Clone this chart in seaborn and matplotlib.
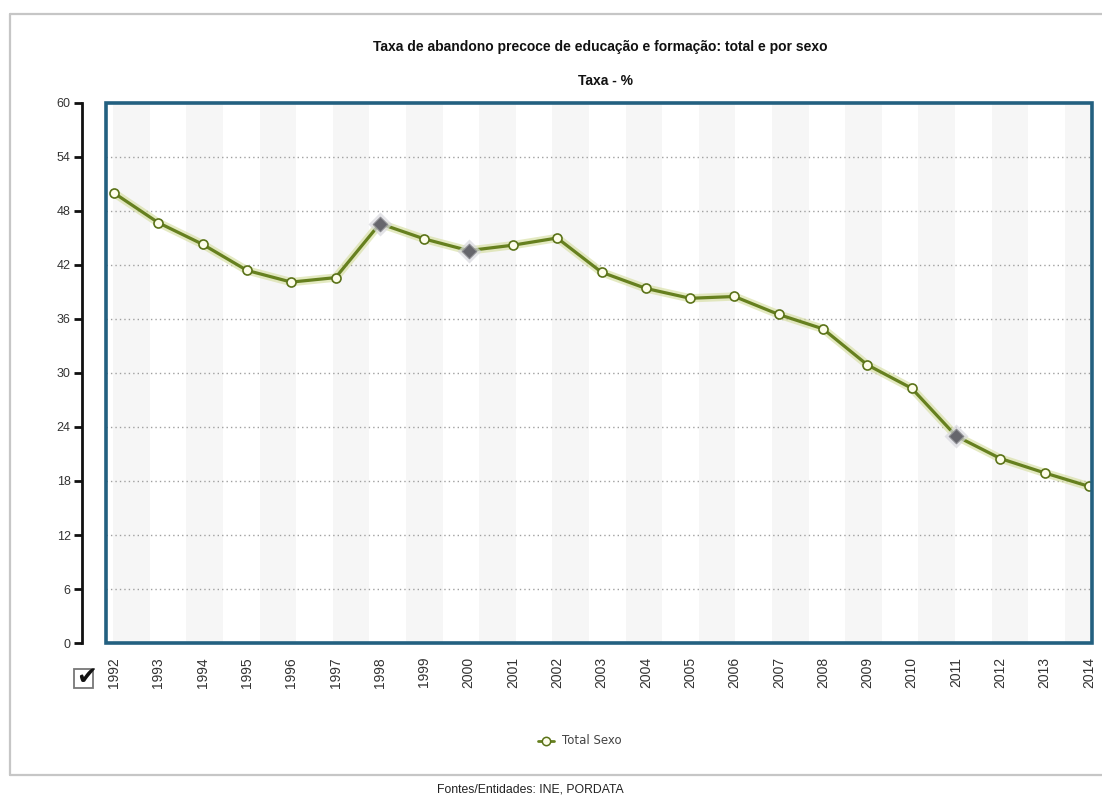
import matplotlib
matplotlib.use("Agg")
import matplotlib.pyplot as plt
from matplotlib.patches import Rectangle
from matplotlib.lines import Line2D
import seaborn as sns
import pandas as pd

# Early leavers from education and training, Portugal (%)
years = [1992, 1993, 1994, 1995, 1996, 1997, 1998, 1999, 2000, 2001, 2002, 2003,
         2004, 2005, 2006, 2007, 2008, 2009, 2010, 2011, 2012, 2013, 2014]
total_sexo = [50.0, 46.7, 44.3, 41.4, 40.1, 40.6, 46.6, 44.9, 43.6, 44.2, 45.0, 41.2,
              39.4, 38.3, 38.5, 36.5, 34.9, 30.9, 28.3, 23.0, 20.5, 18.9, 17.4]
# Years flagged with a series break
break_years = [1998, 2000, 2011]
y_ticks = [0, 6, 12, 18, 24, 30, 36, 42, 48, 54, 60]

title = "Taxa de abandono precoce de educação e formação: total e por sexo"
subtitle = "Taxa - %"
series_name = "Total Sexo"
source = "Fontes/Entidades: INE, PORDATA"

df = pd.DataFrame({"ano": years, "taxa": total_sexo})
breaks = df[df["ano"].isin(break_years)]

sns.set_style("white")
plt.rcParams["font.family"] = ["Liberation Sans", "DejaVu Sans"]

W, H = 1102, 796
fig = plt.figure(figsize=(W / 100, H / 100), dpi=100)
fig.patch.set_facecolor("white")

def fx(px):
    return px / W

def fy(py):
    return 1 - py / H

# Outer panel frame
for seg in ([(10, 14), (1102, 14)], [(10, 775), (1102, 775)], [(10, 14), (10, 775)]):
    (x0, y0), (x1, y1) = seg
    fig.add_artist(Line2D([fx(x0), fx(x1)], [fy(y0), fy(y1)], color="#c6c6c6", lw=1.6,
                          transform=fig.transFigure))

left, right, top, bottom = 106, 1092, 103, 643
ax = fig.add_axes([fx(left), fy(bottom), fx(right - left), (bottom - top) / H])

px_per_year = (1089 - 114) / 22
ax.set_xlim(1992 - (114 - left) / px_per_year, 2014 + (right - 1089) / px_per_year)
ax.set_ylim(0, 60)

# Alternating background bands
band = 0.826
start = 1991.98
x = start
while x < 2014.2:
    ax.axvspan(x, x + band, color="#f6f6f6", lw=0, zorder=0)
    x += 2 * band

# Dotted horizontal grid
for v in y_ticks[1:-1]:
    ax.axhline(v, color="#a0a0a0", lw=1.0, ls=(0, (1, 2.2)), zorder=1)

# Glow under the line
ax.plot(df["ano"], df["taxa"], color="#d3dc9a", lw=6, alpha=0.6, zorder=2,
        solid_capstyle="round")
sns.lineplot(data=df, x="ano", y="taxa", ax=ax, color="#66801f", lw=2.3,
             marker="o", markersize=6.5, markerfacecolor="#fdfdea",
             markeredgecolor="#5a7218", markeredgewidth=1.2, zorder=3)
# Series-break markers
ax.scatter(breaks["ano"], breaks["taxa"], marker="D", s=150, color="#d8d8de",
           alpha=0.7, lw=0, zorder=4)
sns.scatterplot(data=breaks, x="ano", y="taxa", ax=ax, marker="D", s=55,
                color="#66666c", edgecolor="#8a8a90", linewidth=0.8, zorder=5)

# Plot frame
ax.add_patch(Rectangle((0, 0), 1, 1, transform=ax.transAxes, fill=False,
                       edgecolor="#236080", lw=2.6, zorder=6, clip_on=False))
for s in ["top", "right", "bottom"]:
    ax.spines[s].set_visible(False)
ax.spines["left"].set_position(("outward", 17.5))
ax.spines["left"].set_color("#111111")
ax.spines["left"].set_linewidth(2)
ax.spines["left"].set_bounds(0, 60)

ax.set_yticks(y_ticks)
ax.set_yticklabels([str(v) for v in y_ticks])
ax.tick_params(axis="y", direction="out", length=6, width=2, color="#111111",
               labelsize=9, labelcolor="#333333", pad=2, left=True)
ax.set_xticks(years)
ax.set_xticklabels([str(y) for y in years], rotation=90)
ax.tick_params(axis="x", length=0, pad=10, labelsize=10, labelcolor="#333333")
ax.set_xlabel("")
ax.set_ylabel("")
ax.grid(False)

# Titles
fig.text(fx(600), fy(47), title, ha="center", va="center", fontsize=10,
         fontweight="bold", color="#111111")
fig.text(fx(605), fy(81), subtitle, ha="center", va="center", fontsize=10,
         fontweight="bold", color="#111111")

# Checkbox
fig.add_artist(Rectangle((fx(74), fy(688)), fx(19), 19 / H, transform=fig.transFigure,
                         fill=False, edgecolor="#777777", lw=1.3))
fig.text(fx(87), fy(677), "✔", ha="center", va="center", fontsize=18,
         color="#111111", family="DejaVu Sans")

# Legend entry
fig.add_artist(Line2D([fx(538), fx(554)], [fy(741), fy(741)], color="#66801f", lw=2,
                      transform=fig.transFigure))
fig.add_artist(Line2D([fx(546)], [fy(741)], marker="o", markersize=6,
                      markerfacecolor="#fdfdea", markeredgecolor="#5a7218",
                      markeredgewidth=1.1, transform=fig.transFigure))
fig.text(fx(562), fy(741), series_name, ha="left", va="center", fontsize=8.5,
         color="#444444", family="DejaVu Sans")

# Source
fig.text(fx(530), fy(790), source, ha="center", va="center", fontsize=8.8,
         color="#222222")

fig.savefig("out.png", dpi=100, facecolor="white")
